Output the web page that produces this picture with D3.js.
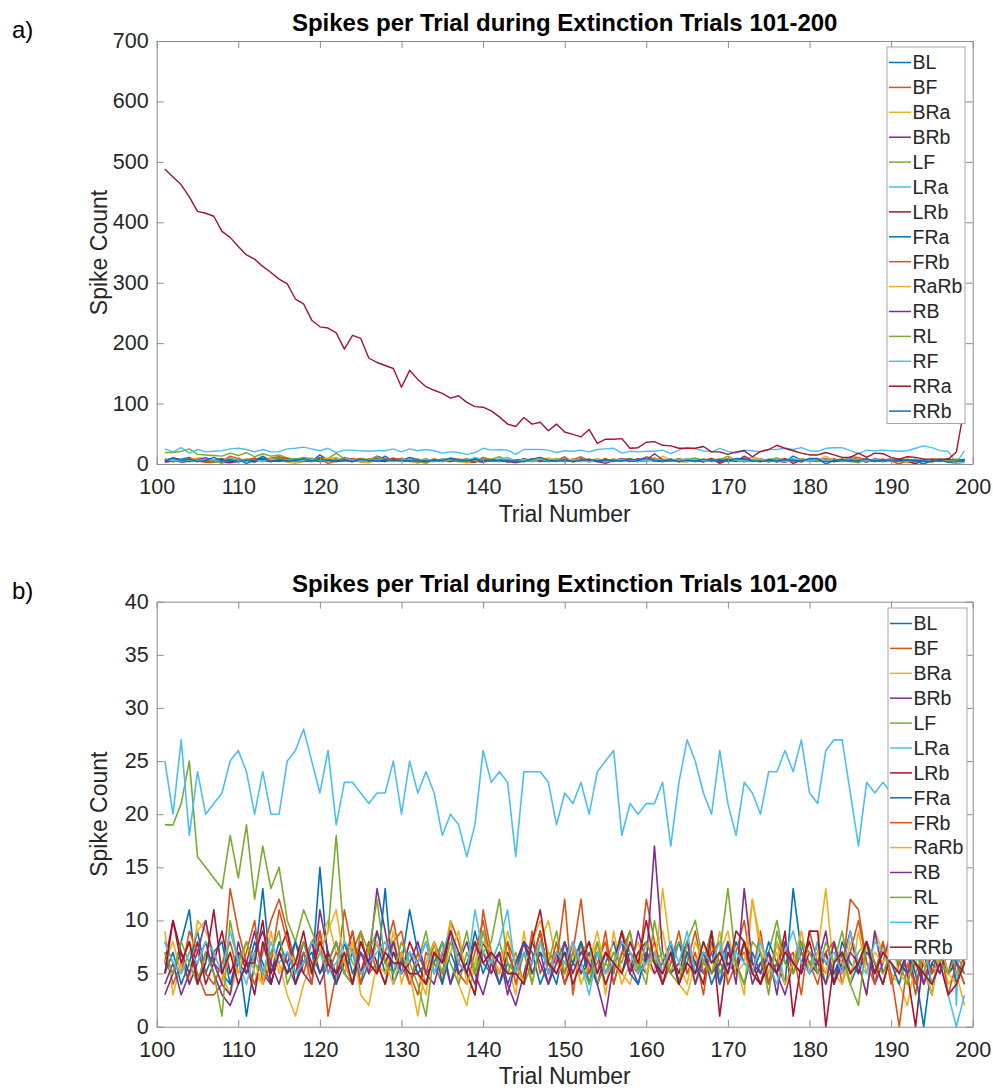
<!DOCTYPE html>
<html><head><meta charset="utf-8">
<script src="https://cdn.jsdelivr.net/npm/d3@7"></script>
<style>
body{margin:0;background:#fff}
svg{display:block}
text{font-family:"Liberation Sans",Arial,Helvetica,sans-serif}
</style>
</head><body>
<svg id="c" width="993" height="1088"></svg>
<script>
// ---------------- DATA ----------------
const trials = d3.range(101, 200); // trials 101..199
const xTicks = [100,110,120,130,140,150,160,170,180,190,200];
const yTicksA = [0,100,200,300,400,500,600,700];
const yTicksB = [0,5,10,15,20,25,30,35,40];
const titleText = "Spikes per Trial during Extinction Trials 101-200";
const xLabel = "Trial Number";
const yLabel = "Spike Count";
const namesA = ["BL","BF","BRa","BRb","LF","LRa","LRb","FRa","FRb","RaRb","RB","RL","RF","RRa","RRb"];
const namesB = ["BL","BF","BRa","BRb","LF","LRa","LRb","FRa","FRb","RaRb","RB","RL","RF","RRb"];
const palette = ["#0072BD","#D95319","#EDB120","#7E2F8E","#77AC30","#4DBEEE","#A2142F"];

const BL = [6,5,8,11,4,7,6,5,4,7, 1,6,13,5,8,6,4,7,5,15, 6,8,5,7,4,6,8,5,7,6, 11,7,5,6,8,4,7,5,9,6,
  5,7,4,6,8,5,7,6,4,8, 6,5,7,4,6,8,5,7,6,5, 7,4,6,8,5,6,7,4,6,5, 8,6,5,7,4,6,8,5,7,6, 5,7,4,8,6,5,7,6,4,7, 6,5,8,4,6,7,5,6,8];
const BF = [7,4,6,8,5,3,3,4,13,9, 6,4,7,10,12,9,6,5,8,9, 1,5,11,7,9,5,6,4,8,9, 5,3,7,6,4,10,8,5,3,11,
  7,5,8,6,4,9,5,7,6,12, 3,8,6,5,9,4,7,6,5,12, 8,4,6,9,5,7,3,8,6,5, 7,10,5,6,4,8,6,7,3,9, 6,5,8,4,7,10,6,5,8,4, 6,7,3,8,5,6,9,4,7];
const BRa = [9,3,6,4,10,9,7,5,3,6, 8,5,4,7,6,3,1,4,6,8, 10,7,5,8,3,2,6,5,9,4, 7,5,3,8,6,10,4,2,6,9,
  5,7,6,3,9,4,8,10,6,5, 7,4,6,8,3,9,5,4,7,6, 5,13,7,4,3,6,8,5,9,4, 6,3,12,7,5,8,4,6,9,5, 7,13,5,4,8,6,3,9,7,5, 4,2,6,5,3,7,4,5,2];
const BRb = [3,5,7,4,6,8,5,3,2,4, 6,9,5,4,7,6,8,5,4,11, 7,5,6,4,8,6,13,9,5,7, 4,6,8,5,7,4,6,8,5,3,
  6,7,4,2,5,8,6,4,7,5, 8,5,6,4,7,5,9,6,4,7, 5,6,8,4,7,5,6,9,4,6, 5,8,4,6,7,5,3,6,8,5, 6,9,4,7,5,6,8,4,6,9, 5,7,4,6,3,8,5,6,4];
const LF = [19,19,21,25,16,15,14,13,18,14, 19,12,17,13,15,10,8,11,9,7, 9,18,8,6,5,7,9,6,8,5, 7,6,9,5,8,6,4,7,5,9,
  6,8,5,7,4,6,9,5,7,6, 5,7,8,4,6,5,9,7,6,4, 10,6,5,8,7,4,6,9,5,7, 6,8,5,4,7,10,6,5,8,6, 7,4,6,9,5,7,8,6,4,7, 6,8,5,7,4,6,9,5,6];
const LRa = [25,20,27,18,24,20,21,22,25,26, 24,20,24,20,20,25,26,28,25,22, 26,19,23,23,22,21,22,22,25,20, 25,22,24,22,18,20,19,16,19,26,
  23,24,23,16,24,24,24,23,19,22, 21,23,20,24,25,26,18,21,20,21, 21,23,17,23,27,25,22,20,26,21, 18,23,22,20,24,24,26,24,27,22, 21,26,27,27,22,17,23,22,23,22, 21,22,26,30,27,22,21,2,22];
const LRb = [6,10,7,5,8,4,6,9,5,7, 6,3,8,5,7,9,4,6,8,5, 7,4,6,9,5,8,6,4,7,5, 8,6,4,7,5,9,6,5,3,8,
  6,4,7,5,8,6,9,5,7,4, 6,8,5,7,4,6,9,5,7,8, 6,4,7,5,8,6,4,9,1,7, 5,8,6,4,7,5,9,1,6,8, 5,7,4,6,9,5,8,6,4,7, 6,5,0,7,4,6,5,8,6];
const FRa = [5,7,4,6,9,5,7,8,4,6, 5,8,6,4,7,5,8,6,7,5, 6,4,8,5,7,6,5,13,4,6, 7,5,6,8,4,7,5,6,8,5,
  7,4,6,5,8,7,4,6,5,7, 6,8,4,7,5,6,8,5,4,7, 6,5,8,4,7,6,5,7,4,8, 6,4,7,5,8,6,4,13,7,5, 8,6,5,7,4,6,8,5,7,6, 4,7,5,0,6,5,8,4,6];
const FRb = [8,6,5,9,7,5,4,6,8,5, 7,10,4,6,11,8,5,7,4,9, 5,7,6,9,4,8,5,7,10,6, 4,7,5,8,6,9,5,4,7,10,
  6,5,8,4,7,6,9,5,8,4, 7,12,5,6,8,4,7,9,5,6, 8,5,7,4,6,9,5,7,8,4, 6,7,5,9,4,6,8,5,7,6, 4,7,8,5,12,11,6,4,8,5, 0,6,4,7,5,8,3,6,4];
const RaRb = [6,8,5,7,9,10,6,4,7,5, 8,6,4,9,5,7,6,8,5,7, 9,11,6,4,7,5,8,6,4,7, 5,1,6,8,5,7,9,4,6,8,
  7,5,9,6,4,8,10,7,5,6, 8,4,6,9,5,7,4,6,8,5, 7,9,5,6,4,8,6,5,7,9, 5,6,12,8,5,7,4,6,9,5, 7,5,8,6,4,9,5,7,6,8, 5,4,7,6,3,8,5,4,6];
const RB = [4,6,3,5,7,10,6,4,3,8, 5,7,9,6,4,7,5,8,6,4, 6,8,5,4,7,5,9,6,8,5, 6,8,5,4,7,9,5,6,4,7,
  5,7,3,6,8,5,7,4,6,8, 5,7,6,4,1,6,8,5,9,6, 17,7,5,6,8,4,7,5,6,8, 4,13,6,5,7,3,8,6,5,7, 6,4,8,5,7,6,3,9,5,7, 8,5,6,4,7,5,8,6,5];
const RL = [7,5,8,6,4,7,5,1,10,6, 8,6,5,7,9,4,6,8,5,7, 6,8,5,4,9,7,12,6,5,8, 6,4,1,7,5,8,6,9,5,7,
  8,12,6,5,7,4,8,6,9,5, 7,6,4,8,5,7,6,9,5,8, 6,7,5,4,8,10,6,5,7,13, 6,4,8,7,3,9,6,5,8,7, 5,8,6,7,4,2,8,6,5,7, 6,4,7,5,8,6,5,7,5];
const RF = [8,6,5,7,6,8,7,5,9,6, 4,7,5,8,6,7,5,6,8,7, 5,6,8,7,5,6,7,8,6,5, 7,6,8,5,7,9,6,5,11,7,
  6,8,11,5,7,6,8,5,7,6, 8,6,3,7,5,6,8,7,5,6, 7,5,8,6,9,5,7,6,8,5, 7,6,5,8,6,4,7,9,6,5, 8,6,7,5,9,6,5,8,7,6, 5,7,6,8,4,6,3,0,3];
const RRa = [488,475,462,442,418,415,410,385,375,360, 346,339,327,317,306,298,273,265,238,227,
  225,217,190,213,208,175,168,163,158,127, 155,140,128,122,117,109,113,102,95,94,
  88,78,66,62,77,66,69,55,66,53, 49,45,57,34,41,41,42,26,27,36, 37,31,30,26,26,26,29,20,20,16,
  20,22,12,21,24,31,26,22,18,15, 15,19,15,11,11,18,11,18,17,11, 8,12,11,8,8,8,8,20,95];
const RRb = [5,10,6,8,4,6,11,5,7,4, 6,6,10,4,7,5,6,9,5,8, 6,5,7,4,8,6,5,7,6,6, 5,5,4,7,6,9,7,5,8,6,
  7,6,5,5,4,8,11,6,5,7, 4,6,8,5,7,6,5,8,6,10, 6,5,7,4,6,5,8,6,7,5, 9,8,5,4,6,5,7,6,5,9, 9,0,6,7,5,6,8,5,7,6, 5,7,6,5,4,6,3,4,6];

const seriesA = [BL,BF,BRa,BRb,LF,LRa,LRb,FRa,FRb,RaRb,RB,RL,RF,RRa,RRb];
const seriesB = [BL,BF,BRa,BRb,LF,LRa,LRb,FRa,FRb,RaRb,RB,RL,RF,RRb];

// ---------------- DRAW ----------------
const svg = d3.select("#c");
svg.append("rect").attr("width",993).attr("height",1088).attr("fill","#fff");
const AX = "#8c8c8c", TXT = "#262626";

function panel(cfg){
  const g = svg.append("g");
  const x = d3.scaleLinear().domain([100,200]).range([cfg.left,cfg.right]);
  const y = d3.scaleLinear().domain([0,cfg.ymax]).range([cfg.bottom,cfg.top]);
  const line = d3.line().x((d,i)=>x(trials[i])).y(d=>y(d));
  cfg.series.forEach((s,i)=>{
    g.append("path").datum(s).attr("d",line).attr("fill","none")
      .attr("stroke",palette[i%7]).attr("stroke-width",cfg.lw).attr("stroke-linejoin","round");
  });
  const styleAx = sel=>{
    sel.select(".domain").attr("stroke",AX).attr("stroke-width",1);
    sel.selectAll(".tick line").attr("stroke",AX);
    sel.selectAll(".tick text").attr("fill",TXT).style("font-size","21.5px").style("font-family",'"Liberation Sans",Arial,sans-serif');
  };
  g.append("g").attr("transform",`translate(0,${cfg.bottom})`)
    .call(d3.axisBottom(x).tickValues(xTicks).tickSizeInner(-7).tickSizeOuter(0).tickPadding(15)).call(styleAx);
  g.append("g").attr("transform",`translate(0,${cfg.top})`)
    .call(d3.axisTop(x).tickValues(xTicks).tickSizeInner(-7).tickSizeOuter(0).tickFormat("")).call(styleAx);
  const yl = g.append("g").attr("transform",`translate(${cfg.left},0)`)
    .call(d3.axisLeft(y).tickValues(cfg.yTicks).tickSizeInner(-7).tickSizeOuter(0).tickPadding(8)).call(styleAx);
  yl.selectAll(".tick text").attr("dy","0.3em");
  g.append("g").attr("transform",`translate(${cfg.right},0)`)
    .call(d3.axisRight(y).tickValues(cfg.yTicks).tickSizeInner(-7).tickSizeOuter(0).tickFormat("")).call(styleAx);

  const cx = (cfg.left+cfg.right)/2, cy = (cfg.top+cfg.bottom)/2;
  g.append("text").attr("x",cx).attr("y",cfg.top-10).attr("text-anchor","middle")
    .style("font-size","24px").style("font-weight","bold").attr("fill","#000").text(titleText);
  g.append("text").attr("x",cx).attr("y",cfg.bottom+57.5).attr("text-anchor","middle")
    .style("font-size","23px").attr("fill",TXT).text(xLabel);
  g.append("text").attr("transform",`translate(107,${cy}) rotate(-90)`).attr("text-anchor","middle")
    .style("font-size","23px").attr("fill",TXT).text(yLabel);
  g.append("text").attr("x",12).attr("y",cfg.top-3).style("font-size","24px").attr("fill","#000").text(cfg.tag);

  // legend
  const lg = g.append("g");
  const n = cfg.names.length, step = 24.9;
  lg.append("rect").attr("x",cfg.legX).attr("y",cfg.legY).attr("width",cfg.legW)
    .attr("height",n*step+3).attr("fill","#fff").attr("stroke","#a6a6a6").attr("stroke-width",1);
  cfg.names.forEach((nm,i)=>{
    const yy = cfg.legY+15.5+i*step;
    lg.append("line").attr("x1",cfg.legX+2).attr("x2",cfg.legX+24).attr("y1",yy).attr("y2",yy)
      .attr("stroke",palette[i%7]).attr("stroke-width",1.5);
    lg.append("text").attr("x",cfg.legX+25.5).attr("y",yy).attr("dy","0.35em")
      .style("font-size","19.5px").attr("fill",TXT).text(nm);
  });
}

panel({left:156.7,right:972.7,top:41,bottom:464,ymax:700,yTicks:yTicksA,series:seriesA,names:namesA,
  tag:"a)",legX:887,legY:47,legW:78,lw:1.4});
panel({left:156.7,right:972.7,top:601.7,bottom:1026.7,ymax:40,yTicks:yTicksB,series:seriesB,names:namesB,
  tag:"b)",legX:888,legY:608,legW:79,lw:1.6});
</script>
</body></html>
